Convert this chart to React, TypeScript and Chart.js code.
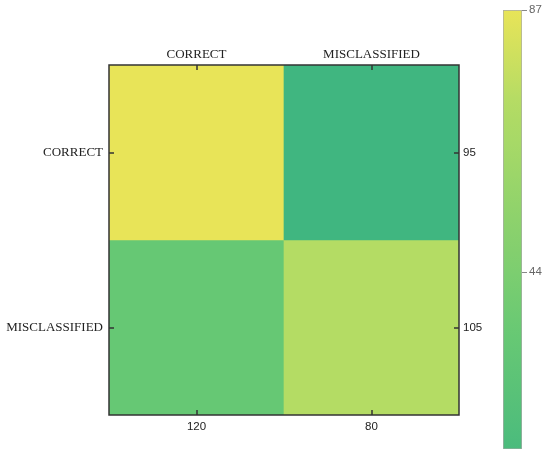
import React, { useEffect, useRef } from 'react';
import { Chart, registerables } from 'chart.js';

Chart.register(...registerables);

// ---- data ----
const rowLabels = ['CORRECT', 'MISCLASSIFIED'];
const colLabels = ['CORRECT', 'MISCLASSIFIED'];
const rowTotalLabels = ['95', '105'];
const colTotalLabels = ['120', '80'];
const rowCorrect = [87, 8];
const rowMisclassified = [33, 72];
const colorbarMin = 15;
const colorbarMax = 87;
const colorbarTicks = [44, 87];

// colormap (value -> rgb)
const colorStopValues = [8, 33, 72, 87];
const colorStopRgb = [
  [64, 182, 128],
  [102, 200, 116],
  [180, 220, 100],
  [232, 228, 88],
];

function colorAt(v: number): string {
  const vals = colorStopValues;
  if (v <= vals[0]) return `rgb(${colorStopRgb[0].join(',')})`;
  if (v >= vals[vals.length - 1]) return `rgb(${colorStopRgb[vals.length - 1].join(',')})`;
  let i = 0;
  while (v > vals[i + 1]) i++;
  const t = (v - vals[i]) / (vals[i + 1] - vals[i]);
  const a = colorStopRgb[i];
  const b = colorStopRgb[i + 1];
  const c = a.map((x, k) => Math.round(x + (b[k] - x) * t));
  return `rgb(${c.join(',')})`;
}

const serifFont = { family: '"Liberation Serif", "Times New Roman", serif', size: 13 };
const sansFont = { family: '"Liberation Sans", Arial, sans-serif', size: 11.5 };
const frameColor = '#333';

const innerTicks = {
  id: 'innerTicks',
  afterDraw(chart: any) {
    const { ctx, chartArea: a, scales } = chart;
    const len = 5;
    ctx.save();
    ctx.strokeStyle = frameColor;
    ctx.lineWidth = 1.5;
    const line = (x1: number, y1: number, x2: number, y2: number) => {
      ctx.beginPath();
      ctx.moveTo(x1, y1);
      ctx.lineTo(x2, y2);
      ctx.stroke();
    };
    ctx.strokeRect(a.left, a.top, a.right - a.left, a.bottom - a.top);
    scales.x.ticks.forEach((_: any, i: number) => {
      const p = Math.round(scales.x.getPixelForTick(i));
      line(p, a.bottom, p, a.bottom - len);
    });
    scales.xTop.ticks.forEach((_: any, i: number) => {
      const p = Math.round(scales.xTop.getPixelForTick(i));
      line(p, a.top, p, a.top + len);
    });
    scales.y.ticks.forEach((_: any, i: number) => {
      const p = Math.round(scales.y.getPixelForTick(i));
      line(a.left, p, a.left + len, p);
    });
    scales.yR.ticks.forEach((_: any, i: number) => {
      const p = Math.round(scales.yR.getPixelForTick(i));
      line(a.right, p, a.right - len, p);
    });
    ctx.restore();
  },
};

const rowRange = (i: number) => [rowLabels.length - 1 - i, rowLabels.length - i];
const rowTicks = () =>
  rowLabels.map((_, i) => ({ value: rowLabels.length - 1 - i + 0.5 })).sort((p, q) => p.value - q.value);
const rowIndexOf = (value: number) => rowLabels.length - 1 - Math.floor(value);

export default function App() {
  const mainRef = useRef<HTMLCanvasElement>(null);
  const barRef = useRef<HTMLCanvasElement>(null);

  useEffect(() => {
    const barCommon = {
      grouped: false,
      barPercentage: 1,
      categoryPercentage: 1,
      borderWidth: 0,
      borderSkipped: false,
      xAxisID: 'x',
      yAxisID: 'y',
    };
    const main = new Chart(mainRef.current!, {
      type: 'bar',
      data: {
        labels: colLabels,
        datasets: [
          {
            ...barCommon,
            label: rowLabels[0],
            data: rowCorrect.map(() => rowRange(0)),
            backgroundColor: rowCorrect.map(colorAt),
          } as any,
          {
            ...barCommon,
            label: rowLabels[1],
            data: rowMisclassified.map(() => rowRange(1)),
            backgroundColor: rowMisclassified.map(colorAt),
          } as any,
        ],
      },
      options: {
        responsive: false,
        animation: false,
        layout: { padding: 0 },
        plugins: { legend: { display: false }, tooltip: { enabled: false } },
        scales: {
          x: {
            type: 'category',
            position: 'bottom',
            labels: colTotalLabels,
            offset: true,
            grid: { display: false, drawTicks: false, offset: true },
            border: { display: false },
            ticks: { font: sansFont, color: '#222', padding: 5, maxRotation: 0 },
            afterFit: (s: any) => { s.height = 43; },
          },
          xTop: {
            type: 'category',
            position: 'top',
            labels: colLabels,
            offset: true,
            grid: { display: false, drawTicks: false, offset: true },
            border: { display: false },
            ticks: { font: serifFont, color: '#222', padding: 3, maxRotation: 0 },
            afterFit: (s: any) => { s.height = 65; },
          },
          y: {
            type: 'linear',
            position: 'left',
            min: 0,
            max: rowLabels.length,
            grid: { display: false, drawTicks: false },
            border: { display: false },
            afterBuildTicks: (s: any) => { s.ticks = rowTicks(); },
            ticks: {
              font: serifFont,
              color: '#222',
              padding: 6,
              callback: (v: any) => rowLabels[rowIndexOf(Number(v))],
            },
            afterFit: (s: any) => { s.width = 109; },
          },
          yR: {
            type: 'linear',
            position: 'right',
            min: 0,
            max: rowLabels.length,
            grid: { display: false, drawTicks: false },
            border: { display: false },
            afterBuildTicks: (s: any) => { s.ticks = rowTicks(); },
            ticks: {
              font: sansFont,
              color: '#222',
              padding: 4,
              callback: (v: any) => rowTotalLabels[rowIndexOf(Number(v))],
            },
            afterFit: (s: any) => { s.width = 91; },
          },
        } as any,
      },
      plugins: [innerTicks],
    });

    const gradientFill = (c: any) => {
      const chart = c.chart;
      const { ctx, chartArea, scales } = chart;
      if (!chartArea) return colorAt(colorbarMax);
      const y = scales.y;
      const y0 = y.getPixelForValue(colorbarMin);
      const y1 = y.getPixelForValue(colorbarMax);
      const g = ctx.createLinearGradient(0, y0, 0, y1);
      const n = 20;
      for (let k = 0; k <= n; k++) {
        const t = k / n;
        g.addColorStop(t, colorAt(colorbarMin + (colorbarMax - colorbarMin) * t));
      }
      return g;
    };

    const bar = new Chart(barRef.current!, {
      type: 'bar',
      data: {
        labels: ['scale'],
        datasets: [
          {
            data: [[colorbarMin, colorbarMax]],
            backgroundColor: gradientFill,
            borderColor: '#aaa',
            borderWidth: 1,
            borderSkipped: false,
            barPercentage: 1,
            categoryPercentage: 1,
          } as any,
        ],
      },
      options: {
        responsive: false,
        animation: false,
        layout: { padding: { left: 23, top: 10, bottom: 7, right: 0 } },
        plugins: { legend: { display: false }, tooltip: { enabled: false } },
        scales: {
          x: { display: false },
          y: {
            type: 'linear',
            position: 'right',
            min: colorbarMin,
            max: colorbarMax,
            grid: { drawOnChartArea: false, drawTicks: true, tickLength: 5, color: '#888' },
            border: { display: false },
            afterBuildTicks: (s: any) => { s.ticks = colorbarTicks.map((v) => ({ value: v })); },
            ticks: { font: { family: '"Liberation Sans", Arial, sans-serif', size: 11.5 }, color: '#666', padding: 2 },
            afterFit: (s: any) => { s.width = 28; },
          },
        } as any,
      },
    });

    return () => {
      main.destroy();
      bar.destroy();
    };
  }, []);

  return (
    <div style={{ position: 'fixed', left: 0, top: 0, width: 550, height: 458, background: '#fff' }}>
      <canvas ref={mainRef} width={550} height={458} style={{ position: 'absolute', left: 0, top: 0 }} />
      <canvas ref={barRef} width={70} height={458} style={{ position: 'absolute', left: 480, top: 0 }} />
    </div>
  );
}
